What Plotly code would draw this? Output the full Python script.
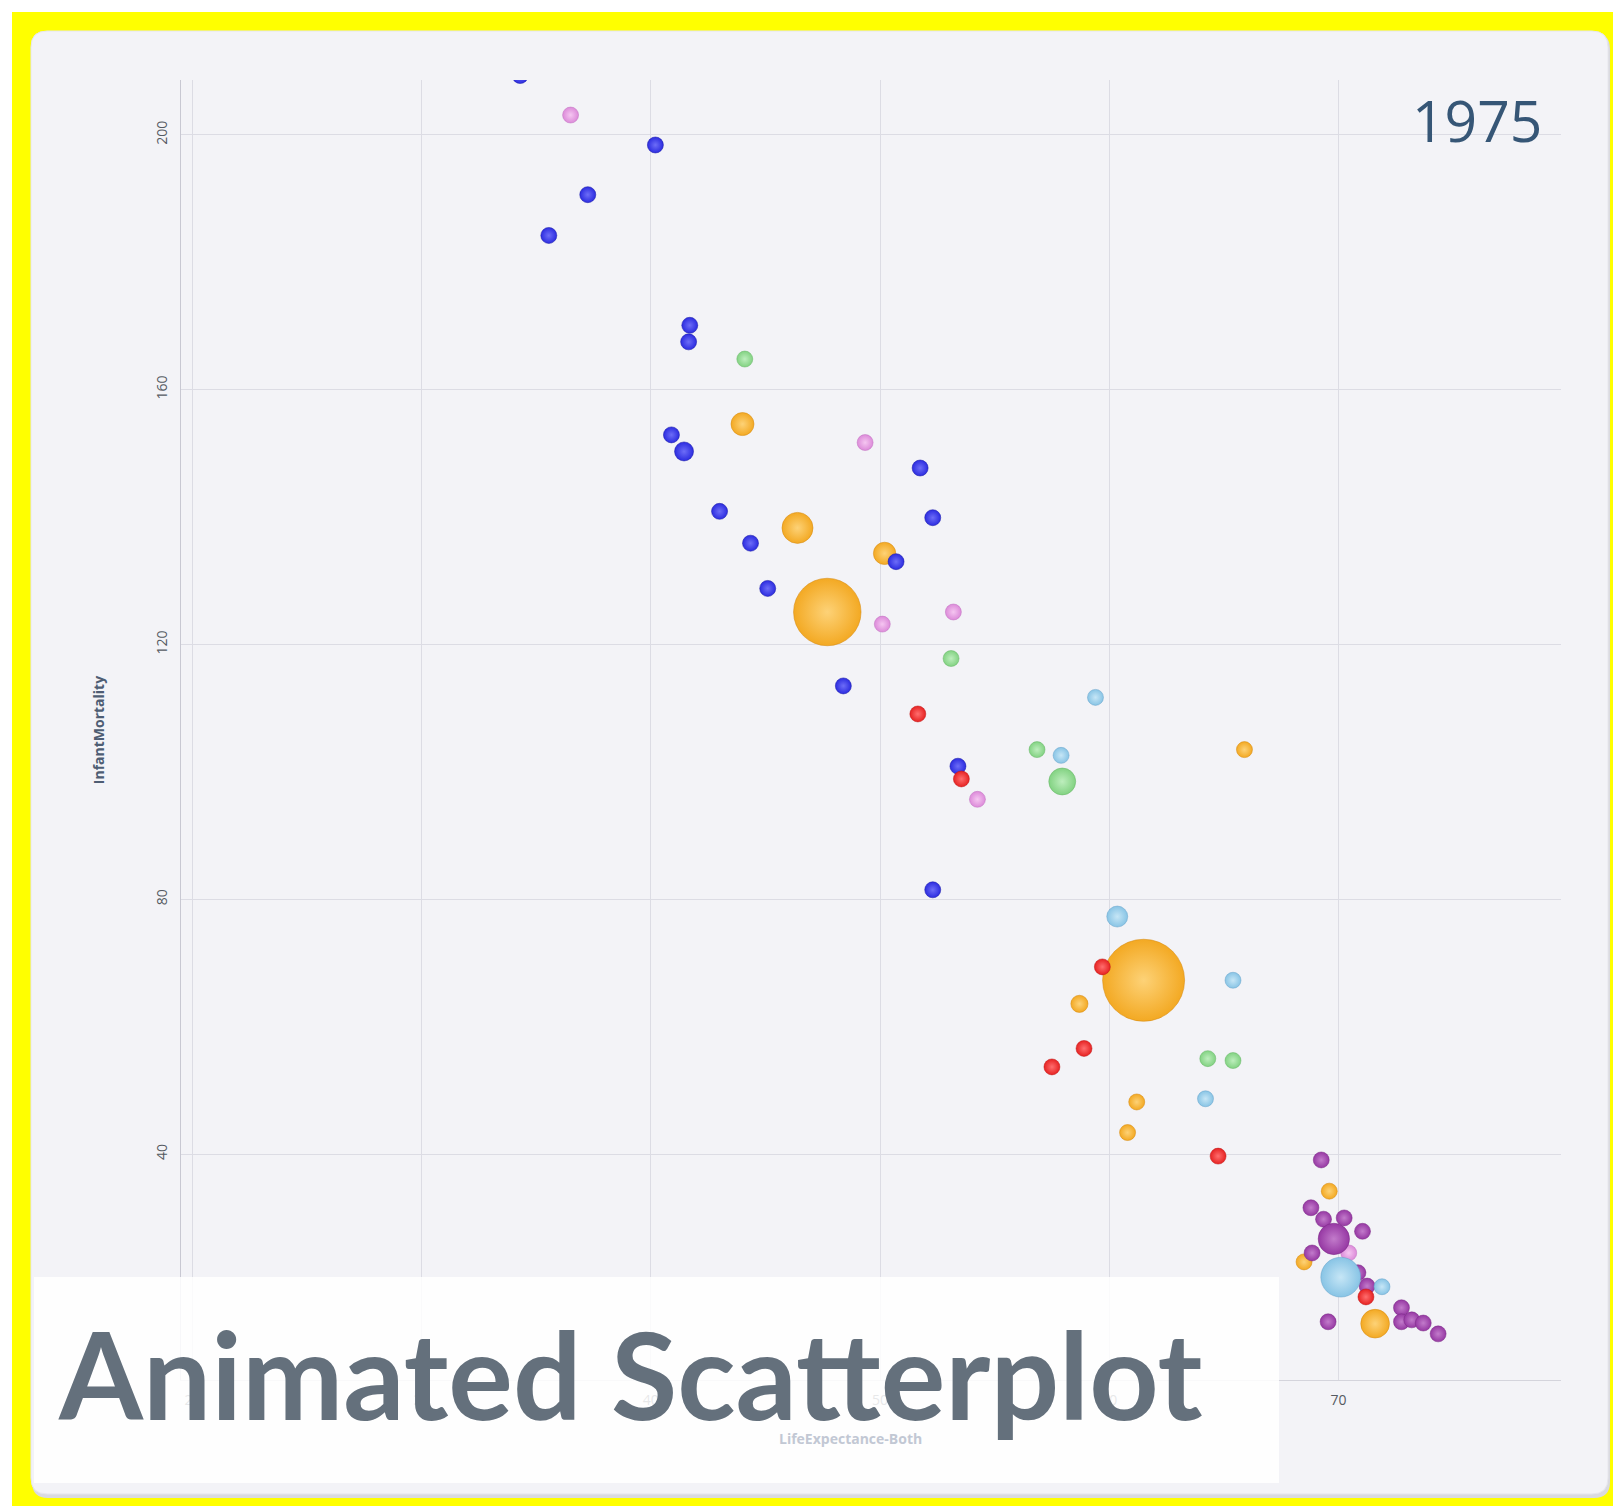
import plotly.graph_objects as go

# ---------------------------------------------------------------
# 1975 snapshot: life expectancy vs infant mortality, bubble = population
# ---------------------------------------------------------------
region_names = ["Asia", "Middle East", "Sub-Saharan Africa", "South America",
                "Europe", "North America", "North Africa"]

regions = (
    ["Asia"] * 12
    + ["Middle East"] * 6
    + ["Sub-Saharan Africa"] * 17
    + ["South America"] * 6
    + ["Europe"] * 15
    + ["North America"] * 7
    + ["North Africa"] * 7
)

life_expectancy = [
    # Asia
    44.0, 46.4, 47.7, 50.2, 65.9, 58.7, 61.5, 61.2, 60.8, 69.6, 68.5, 71.6,
    # Middle East
    36.5, 49.35, 50.1, 53.2, 54.25, 70.45,
    # Sub-Saharan Africa
    34.3, 40.2, 37.25, 35.55, 41.7, 41.65, 40.9, 41.45, 43.0, 44.35, 45.1,
    48.4, 50.7, 51.75, 52.3, 53.4, 52.3,
    # South America
    44.1, 53.1, 56.85, 57.95, 64.3, 65.4,
    # Europe
    69.25, 68.8, 69.35, 70.25, 71.05, 69.8, 68.85, 70.85, 71.25, 72.75, 72.75,
    73.2, 73.7, 74.35, 69.55,
    # North America
    59.4, 57.9, 60.35, 65.4, 64.2, 71.9, 70.1,
    # North Africa
    51.65, 53.55, 59.7, 58.9, 57.5, 64.75, 71.2,
]

infant_mortality = [
    # Asia
    154.6, 138.3, 125.1, 134.3, 103.5, 63.6, 67.3, 48.2, 43.4, 34.2, 23.1, 13.4,
    # Middle East
    203.1, 151.7, 123.2, 125.1, 95.7, 24.5,
    # Sub-Saharan Africa
    209.3, 198.4, 190.6, 184.2, 170.1, 167.5, 152.9, 150.3, 140.9, 135.9, 128.8,
    113.5, 133.0, 147.7, 139.9, 100.9, 81.5,
    # South America
    164.8, 117.8, 103.5, 98.5, 55.0, 54.7,
    # Europe
    39.1, 31.6, 29.8, 30.0, 27.9, 26.7, 24.5, 21.4, 19.3, 15.9, 13.7,
    14.0, 13.5, 11.8, 13.7,
    # North America
    111.7, 102.6, 77.3, 67.3, 48.7, 19.2, 20.7,
    # North Africa
    109.1, 98.9, 69.4, 56.6, 53.7, 39.7, 17.6,
]

population = [  # millions
    # Asia
    72, 131, 620, 68, 12, 40, 916, 30, 33, 10, 5, 112,
    # Middle East
    13, 8, 10, 7, 12, 3,
    # Sub-Saharan Africa
    6, 10, 5, 8, 4, 12, 30, 49, 15, 10, 7, 14, 33, 5, 9, 13, 1,
    # South America
    5, 15, 7, 99, 25, 13,
    # Europe
    9, 21, 30, 10, 8, 134, 9, 33, 31, 30, 32, 14, 4, 8, 17,
    # North America
    5, 6, 60, 4, 2, 23, 216,
    # North Africa
    17, 17, 15, 9, 6, 3, 1,
]

year_label = "1975"
chart_title = "Animated Scatterplot"
x_title = "LifeExpectance-Both"
y_title = "InfantMortality"

# bubble shading per region: (rim colour, centre highlight, outline)
region_style = {
    "Asia":               ("#f3a923", "#fdd277", "rgba(215,140,20,0.7)"),
    "Middle East":        ("#dc8ad9", "#f5c6f1", "rgba(190,110,190,0.6)"),
    "Sub-Saharan Africa": ("#2c2ce0", "#6d6df7", "rgba(30,30,170,0.7)"),
    "South America":      ("#82d282", "#bdeebd", "rgba(100,180,100,0.6)"),
    "Europe":             ("#9638a3", "#c27bcb", "rgba(120,40,130,0.6)"),
    "North America":      ("#88c4e5", "#c6e6f6", "rgba(100,160,200,0.6)"),
    "North Africa":       ("#e62222", "#ff6e6e", "rgba(190,20,20,0.6)"),
}

# ---------------------------------------------------------------
# page geometry (pixels) and helpers to place paper-level decorations
# ---------------------------------------------------------------
W, H = 1613, 1506
ML, MR, MT, MB = 181, 52, 80, 126
PW, PH = W - ML - MR, H - MT - MB


def fx(px):
    return (px - ML) / PW


def fy(py):
    return 1 - (py - MT) / PH


def rounded_rect(x0, y0, x1, y1, r):
    pts = [
        ("M", [(x0 + r, y0)]),
        ("L", [(x1 - r, y0)]),
        ("Q", [(x1, y0), (x1, y0 + r)]),
        ("L", [(x1, y1 - r)]),
        ("Q", [(x1, y1), (x1 - r, y1)]),
        ("L", [(x0 + r, y1)]),
        ("Q", [(x0, y1), (x0, y1 - r)]),
        ("L", [(x0, y0 + r)]),
        ("Q", [(x0, y0), (x0 + r, y0)]),
    ]
    parts = []
    for cmd, coords in pts:
        parts.append(cmd + " ".join(f"{fx(a):.5f},{fy(b):.5f}" for a, b in coords))
    return " ".join(parts) + " Z"


fig = go.Figure()

for reg in region_names:
    idx = [i for i, r in enumerate(regions) if r == reg]
    rim, centre, outline = region_style[reg]
    fig.add_trace(go.Scatter(
        x=[life_expectancy[i] for i in idx],
        y=[infant_mortality[i] for i in idx],
        mode="markers",
        name=reg,
        showlegend=False,
        marker=dict(
            size=[population[i] for i in idx],
            sizemode="area",
            sizeref=0.2723,
            sizemin=8,
            color=rim,
            opacity=1,
            gradient=dict(type="radial", color=centre),
            line=dict(width=0.8, color=outline),
        ),
        hovertemplate=reg + "<br>%{x}, %{y}<extra></extra>",
    ))

shapes = [
    # yellow frame
    dict(type="rect", xref="paper", yref="paper", layer="below",
         x0=fx(12), x1=fx(W + 5), y0=fy(12), y1=fy(H + 5),
         fillcolor="#ffff00", line=dict(width=0)),
    # card shadow
    dict(type="path", xref="paper", yref="paper", layer="below",
         path=rounded_rect(32, 33, 1610, 1498, 16),
         fillcolor="#dadae0", line=dict(width=0)),
    # card
    dict(type="path", xref="paper", yref="paper", layer="below",
         path=rounded_rect(31, 31, 1608, 1494, 16),
         fillcolor="#f3f3f7", line=dict(color="#e6e6ec", width=1)),
    # translucent caption panel
    dict(type="rect", xref="paper", yref="paper", layer="above",
         x0=fx(34), x1=fx(1279), y0=fy(1277), y1=fy(1483),
         fillcolor="rgba(255,255,255,0.86)", line=dict(width=0)),
]

annotations = [
    dict(text=year_label, xref="paper", yref="paper",
         x=fx(1544), y=fy(120), xanchor="right", yanchor="middle",
         showarrow=False,
         font=dict(family="Open Sans", size=57, color="#365676")),
    dict(text=x_title, xref="paper", yref="paper",
         x=fx(850), y=fy(1438), xanchor="center", yanchor="middle",
         showarrow=False,
         font=dict(family="Open Sans", size=14, color="#c2c8d4", weight=700)),
    dict(text=chart_title, xref="paper", yref="paper",
         x=fx(56), y=fy(1373), xanchor="left", yanchor="middle",
         showarrow=False,
         font=dict(family="Lato", size=121, color="#64707c", weight=700)),
]

fig.update_layout(
    width=W, height=H,
    margin=dict(l=ML, r=MR, t=MT, b=MB, autoexpand=False),
    paper_bgcolor="#ffffff",
    plot_bgcolor="rgba(0,0,0,0)",
    showlegend=False,
    shapes=shapes,
    annotations=annotations,
    xaxis=dict(
        range=[19.503, 79.71], tick0=0, dtick=10,
        showgrid=True, gridcolor="#dcdce4", gridwidth=1,
        showline=True, linecolor="#d4d4dc", linewidth=1,
        zeroline=False, ticks="", ticklabelstandoff=7,
        tickfont=dict(family="Open Sans", size=14, color="#555a62"),
        automargin=False,
    ),
    yaxis=dict(
        range=[4.56, 208.6], tick0=0, dtick=40,
        showgrid=True, gridcolor="#dcdce4", gridwidth=1,
        showline=True, linecolor="#c8c8d2", linewidth=1,
        zeroline=False, ticks="", tickangle=-90, ticklabelstandoff=7,
        tickfont=dict(family="Open Sans", size=14, color="#555a62"),
        title=dict(text=y_title, standoff=44,
                   font=dict(family="Open Sans", size=14, color="#4e5d73", weight=700)),
        automargin=False,
    ),
)

fig.write_html("out.html")
